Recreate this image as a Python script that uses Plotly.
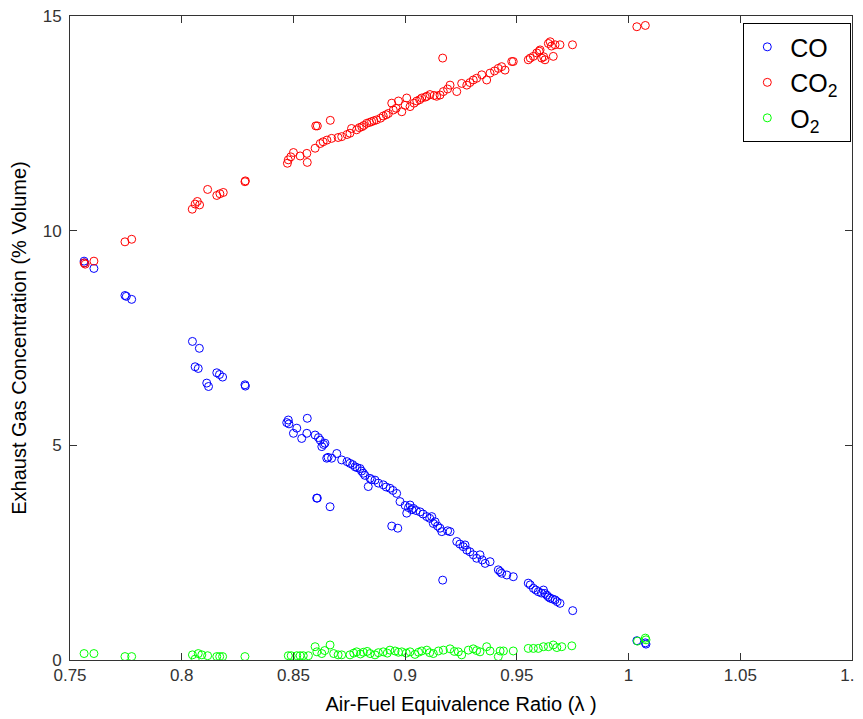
import plotly.graph_objects as go

# ---- data ----
lam_co = [0.7563, 0.7565, 0.7607, 0.7746, 0.7752, 0.7776,
          0.8048, 0.8060, 0.8074, 0.8079, 0.8112, 0.8120, 0.8157, 0.8169, 0.8183, 0.8283, 0.8285,
          0.8470, 0.8477, 0.8480, 0.8500, 0.8515, 0.8537, 0.8560, 0.8562, 0.8597, 0.8604, 0.8607,
          0.8612, 0.8620, 0.8627, 0.8635, 0.8641, 0.8649, 0.8655, 0.8664, 0.8671, 0.8694, 0.8716,
          0.8740, 0.8753, 0.8765, 0.8776, 0.8785, 0.8798, 0.8805, 0.8813, 0.8820, 0.8835, 0.8843,
          0.8850, 0.8865, 0.8880, 0.8902, 0.8915, 0.8932, 0.8940, 0.8945, 0.8962, 0.8967, 0.8977,
          0.9000, 0.9007, 0.9015, 0.9022, 0.9030, 0.9037, 0.9050, 0.9067, 0.9080, 0.9097, 0.9110,
          0.9119, 0.9126, 0.9134, 0.9145, 0.9156, 0.9164, 0.9168, 0.9190, 0.9201, 0.9231, 0.9245,
          0.9260, 0.9268, 0.9276, 0.9290, 0.9305, 0.9320, 0.9335, 0.9345, 0.9358, 0.9380, 0.9417,
          0.9425, 0.9432, 0.9455, 0.9484, 0.9551, 0.9560, 0.9574, 0.9585, 0.9596, 0.9610, 0.9619,
          0.9625, 0.9634, 0.9641, 0.9649, 0.9660, 0.9671, 0.9680, 0.9693, 0.9750,
          1.0037, 1.0075, 1.0078]
co = [9.29, 9.25, 9.12, 8.49, 8.47, 8.40,
      7.42, 6.83, 6.79, 7.26, 6.45, 6.37, 6.69, 6.65, 6.59, 6.41, 6.38,
      5.53, 5.59, 5.50, 5.28, 5.40, 5.16, 5.28, 5.63, 5.24, 3.77, 3.77,
      5.18, 5.12, 4.97, 5.02, 5.05, 4.70, 4.72, 3.57, 4.70, 4.81, 4.66,
      4.62, 4.58, 4.55, 4.50, 4.48, 4.46, 4.40, 4.35, 4.30, 4.04, 4.23,
      4.20, 4.19, 4.12, 4.08, 4.03, 4.00, 3.12, 3.95, 3.88, 3.07, 3.69,
      3.60, 3.42, 3.55, 3.61, 3.50, 3.53, 3.48, 3.45, 3.40, 3.34, 3.30,
      3.34, 3.18, 3.22, 3.12, 3.07, 2.99, 1.86, 3.01, 2.99, 2.76, 2.70,
      2.64, 2.68, 2.56, 2.52, 2.45, 2.37, 2.45, 2.33, 2.25, 2.29, 2.10,
      2.06, 2.02, 1.98, 1.94, 1.79, 1.75, 1.67, 1.63, 1.59, 1.56, 1.63,
      1.55, 1.51, 1.47, 1.44, 1.42, 1.40, 1.36, 1.32, 1.15,
      0.45, 0.40, 0.37]

lam_co2 = [0.7563, 0.7568, 0.7607, 0.7746, 0.7776,
           0.8047, 0.8060, 0.8070, 0.8080, 0.8116, 0.8157, 0.8171, 0.8186, 0.8283, 0.8285,
           0.8473, 0.8477, 0.8488, 0.8500, 0.8530, 0.8560, 0.8562, 0.8597, 0.8600, 0.8607,
           0.8620, 0.8633, 0.8650, 0.8665, 0.8671, 0.8700, 0.8716, 0.8740, 0.8753, 0.8760,
           0.8783, 0.8795, 0.8806, 0.8815, 0.8828, 0.8840, 0.8850, 0.8860, 0.8872, 0.8890,
           0.8902, 0.8915, 0.8925, 0.8940, 0.8947, 0.8960, 0.8970, 0.8985, 0.9000, 0.9007,
           0.9022, 0.9040, 0.9052, 0.9065, 0.9074, 0.9090, 0.9097, 0.9111, 0.9130, 0.9141,
           0.9156, 0.9168, 0.9171, 0.9190, 0.9201, 0.9231, 0.9253, 0.9276, 0.9290, 0.9305,
           0.9320, 0.9343, 0.9365, 0.9380, 0.9400, 0.9417, 0.9432, 0.9447, 0.9477, 0.9484,
           0.9551, 0.9560, 0.9574, 0.9589, 0.9600, 0.9604, 0.9611, 0.9620, 0.9626, 0.9641,
           0.9649, 0.9655, 0.9663, 0.9671, 0.9693, 0.9749,
           1.0037, 1.0075]
co2 = [9.25, 9.22, 9.29, 9.74, 9.80,
       10.50, 10.62, 10.68, 10.60, 10.96, 10.82, 10.86, 10.89, 11.14, 11.16,
       11.57, 11.65, 11.72, 11.82, 11.74, 11.80, 11.59, 11.92, 12.44, 12.44,
       12.03, 12.07, 12.11, 12.57, 12.15, 12.17, 12.19, 12.24, 12.27, 12.38,
       12.35, 12.40, 12.42, 12.45, 12.50, 12.52, 12.54, 12.56, 12.58, 12.62,
       12.67, 12.70, 12.73, 12.97, 12.81, 12.85, 13.02, 12.77, 12.92, 13.09,
       12.89, 12.97, 13.02, 13.05, 13.09, 13.11, 13.13, 13.17, 13.15, 13.13,
       13.16, 14.02, 13.24, 13.30, 13.39, 13.24, 13.43, 13.39, 13.45, 13.51,
       13.55, 13.63, 13.51, 13.67, 13.72, 13.78, 13.82, 13.74, 13.94, 13.94,
       13.98, 14.02, 14.06, 14.14, 14.18, 14.21, 14.02, 14.05, 13.98, 14.36,
       14.40, 14.30, 14.06, 14.33, 14.33, 14.33,
       14.75, 14.78]

lam_o2 = [0.7563, 0.7607, 0.7746, 0.7776,
          0.8048, 0.8060, 0.8074, 0.8090, 0.8116, 0.8157, 0.8170, 0.8183, 0.8283,
          0.8477, 0.8490, 0.8515, 0.8530, 0.8544, 0.8567, 0.8597, 0.8605, 0.8627, 0.8640,
          0.8664, 0.8680, 0.8700, 0.8716, 0.8753, 0.8770, 0.8783, 0.8800, 0.8813, 0.8830,
          0.8843, 0.8865, 0.8880, 0.8902, 0.8920, 0.8932, 0.8955, 0.8970, 0.8985, 0.9005,
          0.9022, 0.9044, 0.9060, 0.9074, 0.9097, 0.9110, 0.9126, 0.9149, 0.9171, 0.9201,
          0.9220, 0.9238, 0.9253, 0.9283, 0.9305, 0.9320, 0.9335, 0.9365, 0.9380, 0.9417,
          0.9425, 0.9440, 0.9484, 0.9551, 0.9574, 0.9596, 0.9619, 0.9641, 0.9663, 0.9679,
          0.9701, 0.9746,
          1.0040, 1.0075, 1.0078]
o2 = [0.15, 0.15, 0.08, 0.08,
      0.12, 0.02, 0.15, 0.12, 0.10, 0.08, 0.08, 0.08, 0.08,
      0.10, 0.10, 0.10, 0.10, 0.10, 0.10, 0.31, 0.19, 0.15, 0.22,
      0.35, 0.15, 0.12, 0.12, 0.12, 0.16, 0.19, 0.14, 0.18, 0.20,
      0.15, 0.12, 0.17, 0.19, 0.16, 0.23, 0.21, 0.18, 0.19, 0.16,
      0.19, 0.13, 0.18, 0.21, 0.23, 0.17, 0.15, 0.21, 0.23, 0.26,
      0.20, 0.19, 0.12, 0.23, 0.26, 0.22, 0.19, 0.31, 0.21, 0.08,
      0.21, 0.21, 0.21, 0.27, 0.27, 0.27, 0.31, 0.31, 0.35, 0.29,
      0.31, 0.33,
      0.44, 0.51, 0.47]

x_ticks = [0.75, 0.8, 0.85, 0.9, 0.95, 1, 1.05, 1.1]
x_tick_labels = ["0.75", "0.8", "0.85", "0.9", "0.95", "1", "1.05", "1.1"]
y_ticks = [0, 5, 10, 15]

FONT = "Liberation Sans, Arial, sans-serif"

def marker(color):
    return dict(symbol="circle-open", size=8, color=color, line=dict(width=1, color=color))

fig = go.Figure()
fig.add_trace(go.Scatter(x=lam_co, y=co, mode="markers", name="CO", marker=marker("#0000ff")))
fig.add_trace(go.Scatter(x=lam_co2, y=co2, mode="markers", name="CO<sub>2</sub>\u00a0", marker=marker("#ff0000")))
fig.add_trace(go.Scatter(x=lam_o2, y=o2, mode="markers", name="O<sub>2</sub>", marker=marker("#00ff00")))

axis_common = dict(
    showgrid=False, zeroline=False, showline=True, linecolor="#333333", linewidth=1,
    mirror="ticks", ticks="inside", ticklen=7, tickcolor="#333333", automargin=False,
    ticklabeloverflow="allow",
    tickfont=dict(family=FONT, size=17, color="#333333"),
)

# the page body adds an 8px offset, so the figure is sized/offset to compensate
fig.update_layout(
    width=855, height=711,
    margin=dict(l=62, r=11, t=8, b=59),
    paper_bgcolor="white", plot_bgcolor="white",
    font=dict(family=FONT, color="black"),
    xaxis=dict(range=[0.75, 1.1], tickvals=x_ticks, ticktext=x_tick_labels,
               title=dict(text="Air-Fuel Equivalence Ratio (λ )", font=dict(size=20, color="black"), standoff=12),
               ticklabelstandoff=0, **axis_common),
    yaxis=dict(range=[0, 15], tickvals=y_ticks,
               title=dict(text="Exhaust Gas Concentration (% Volume)", font=dict(size=20, color="black"), standoff=20),
               ticklabelstandoff=4, **axis_common),
    legend=dict(x=0.861, y=0.989, xanchor="left", yanchor="top",
                bordercolor="black", borderwidth=1, bgcolor="white",
                font=dict(family=FONT, size=25, color="black"),
                tracegroupgap=0, itemwidth=36),
    showlegend=True,
)

fig.write_html("out.html")
